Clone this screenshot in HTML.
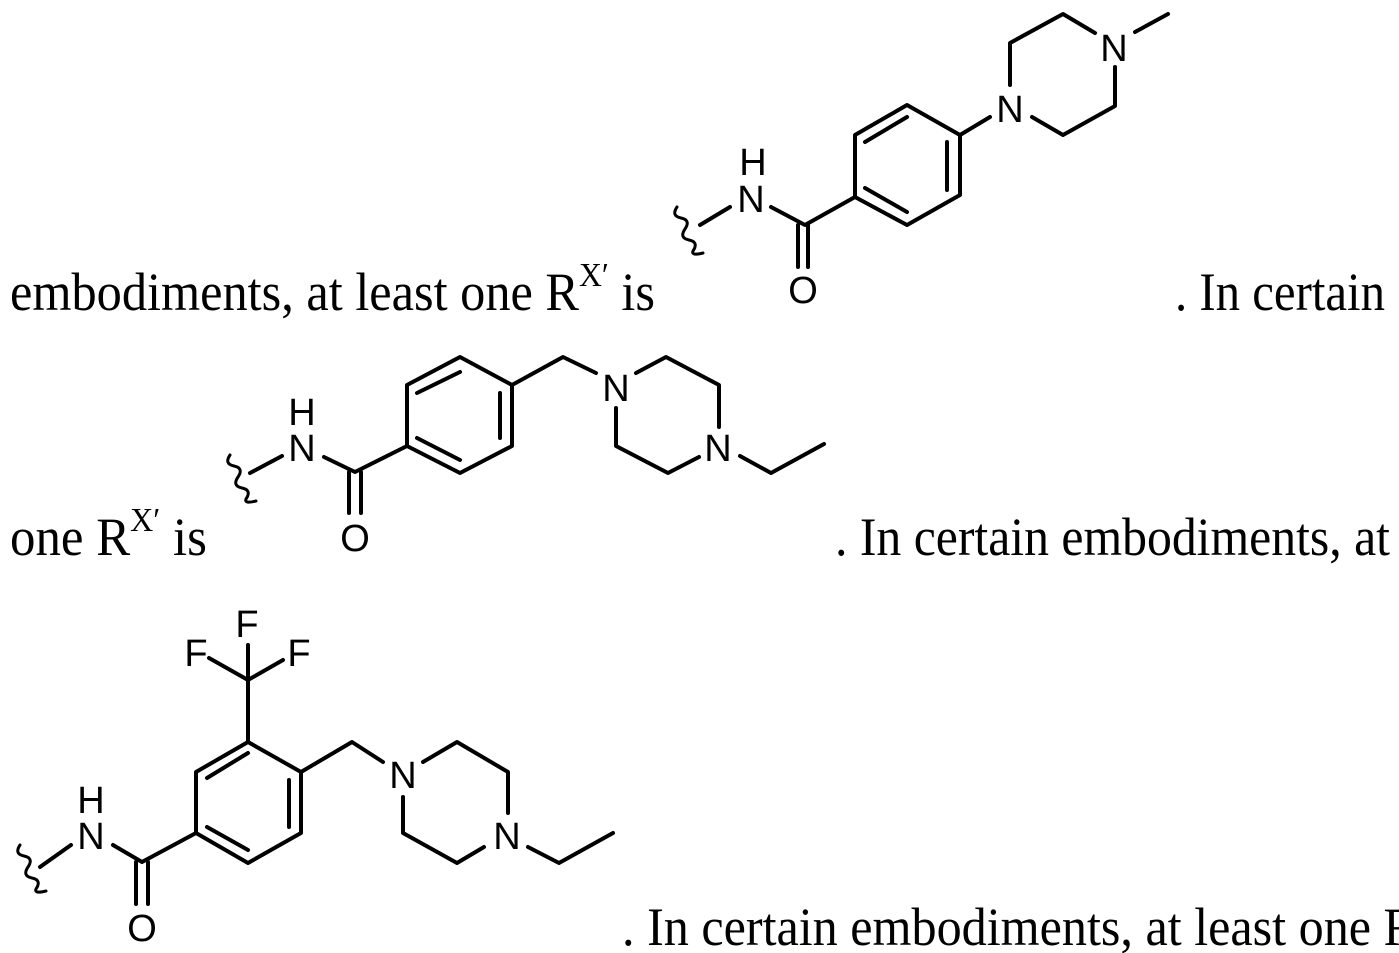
<!DOCTYPE html>
<html><head><meta charset="utf-8"><style>
html,body{margin:0;padding:0;background:#fff;}
svg{display:block;}
.b{stroke:#000;stroke-width:4;fill:none;stroke-linecap:round;stroke-linejoin:round;}
.w{stroke:#000;stroke-width:3;fill:none;stroke-linecap:round;}
.l{font-family:"Liberation Sans",Arial,sans-serif;font-size:38px;fill:#000;text-anchor:middle;}
.t{font-family:"Liberation Serif","Times New Roman",serif;font-size:54px;fill:#000;}
</style></head><body>
<svg width="1399" height="953" viewBox="0 0 1399 953" xmlns="http://www.w3.org/2000/svg">
<!-- Structure 1 -->
<path class="w" d="M677,207 q-6,9 4,11 q10,2 4,11 q-6,9 4,11 q10,2 4,11 q-2,5 10,2"/>
<path class="b" d="M700,225 L730,207"/>
<path class="b" d="M771,207 L805,225 L855,197 L855,135 L907,105 L960,135 L960,195 L907,225 L855,197"/>
<path class="b" d="M798,225 L798,267 M808,225 L808,267"/>
<path class="b" d="M865,142 L907,117 M947,142 L947,190 M865,188 L907,212"/>
<path class="b" d="M960,135 L990,117"/>
<path class="b" d="M1032,117 L1063,135 L1115,106 L1115,67"/>
<path class="b" d="M1095,33 L1063,14 L1010,43 L1010,85"/>
<path class="b" d="M1135,32 L1168,14"/>
<text class="l" x="751" y="212">N</text>
<text class="l" x="753" y="175">H</text>
<text class="l" x="803" y="303">O</text>
<text class="l" x="1010" y="122">N</text>
<text class="l" x="1114" y="61">N</text>
<!-- Structure 2 -->
<path class="w" d="M230,455 q-6,9 4,11 q10,2 4,11 q-6,9 4,11 q10,2 4,11 q-2,5 10,2"/>
<path class="b" d="M250,473 L282,456"/>
<path class="b" d="M324,457 L355,472 L407,446 L407,385 L460,357 L512,385 L512,446 L460,473 L407,446"/>
<path class="b" d="M349,472 L349,513 M361,472 L361,513"/>
<path class="b" d="M417,393 L460,372 M500,393 L500,438 M417,438 L460,460"/>
<path class="b" d="M512,385 L563,357 L596,373"/>
<path class="b" d="M636,373 L666,357 L719,385 L719,427"/>
<path class="b" d="M699,457 L668,473 L616,446 L616,408"/>
<path class="b" d="M740,456 L771,473 L824,444"/>
<text class="l" x="302" y="461">N</text>
<text class="l" x="302" y="425">H</text>
<text class="l" x="355" y="551">O</text>
<text class="l" x="616" y="401">N</text>
<text class="l" x="718" y="461">N</text>
<!-- Structure 3 -->
<path class="w" d="M20,845 q-6,9 4,11 q10,2 4,11 q-6,9 4,11 q10,2 4,11 q-2,5 10,2"/>
<path class="b" d="M40,867 L71,845"/>
<path class="b" d="M113,845 L142,862 L196,833 L196,772 L248,742 L301,772 L301,833 L248,863 L196,833"/>
<path class="b" d="M136,862 L136,904 M148,862 L148,904"/>
<path class="b" d="M207,778 L248,753 M289,780 L289,827 M207,827 L248,850"/>
<path class="b" d="M248,742 L248,680 M248,680 L209,658 M248,680 L283,660 M248,680 L248,645"/>
<path class="b" d="M301,772 L352,742 L383,762"/>
<path class="b" d="M423,762 L457,742 L508,772 L508,813"/>
<path class="b" d="M484,847 L457,863 L403,833 L403,797"/>
<path class="b" d="M528,847 L559,863 L613,833"/>
<text class="l" x="91" y="849">N</text>
<text class="l" x="91" y="813">H</text>
<text class="l" x="142" y="941">O</text>
<text class="l" x="196" y="666">F</text>
<text class="l" x="299" y="666">F</text>
<text class="l" x="247" y="637">F</text>
<text class="l" x="403" y="788">N</text>
<text class="l" x="507" y="849">N</text>
<!-- Prose -->
<text class="t" x="10" y="310" textLength="645" lengthAdjust="spacingAndGlyphs">embodiments, at least one R<tspan font-size="34" dy="-24">X′</tspan><tspan dy="24"> is</tspan></text>
<text class="t" x="1175" y="310" textLength="210" lengthAdjust="spacingAndGlyphs">. In certain</text>
<text class="t" x="10" y="555" textLength="197" lengthAdjust="spacingAndGlyphs">one R<tspan font-size="34" dy="-24">X′</tspan><tspan dy="24"> is</tspan></text>
<text class="t" x="835" y="555" textLength="555" lengthAdjust="spacingAndGlyphs">. In certain embodiments, at</text>
<text class="t" x="622" y="945" textLength="795" lengthAdjust="spacingAndGlyphs">. In certain embodiments, at least one R</text>
</svg>
</body></html>
